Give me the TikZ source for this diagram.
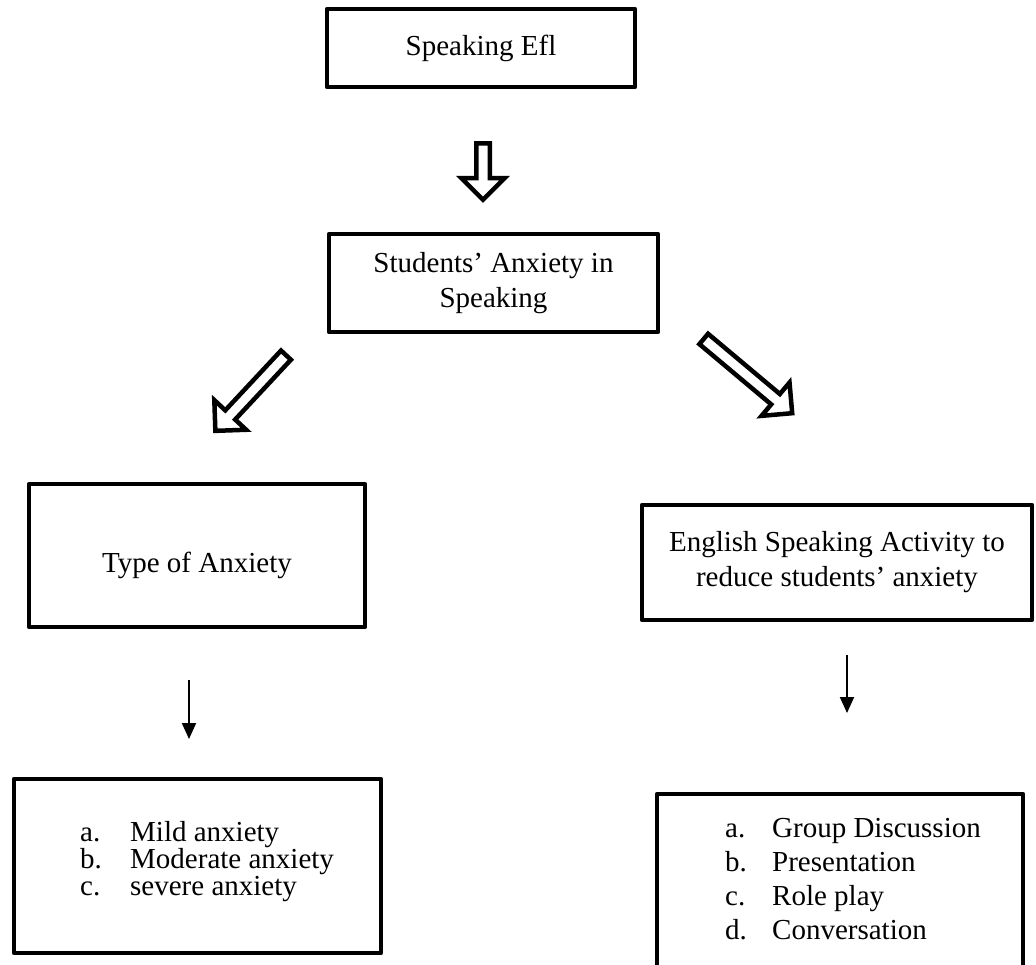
\documentclass[tikz,border=0pt]{standalone}
\usepackage{fontspec}
\setmainfont{Liberation Serif}
\usetikzlibrary{positioning, shapes.arrows, arrows.meta}

\begin{document}
\begin{tikzpicture}[x=1pt,y=1pt,
   box/.style={draw, line width=3.6pt, line join=round, align=center, inner sep=0pt,
      font=\fontsize{29}{35}\selectfont},
   listtext/.style={align=left, inner sep=0pt, anchor=north west},
   fatarrow/.style={draw, single arrow, line width=4.5pt,
      single arrow head extend=15pt, single arrow head indent=0pt, inner sep=4.5pt, anchor=tail},
   thinarrow/.style={line width=2pt, -{Triangle[length=16pt,width=14pt]}}]
\useasboundingbox (0,0) rectangle (1036,-964);
\clip (0,0) rectangle (1036,-964);

\node[box, minimum width=308.4pt, minimum height=78.4pt] (efl) at (481,-48) {Speaking Efl};
\node[box, minimum width=329.4pt, minimum height=98.4pt] (stud) at (493.5,-283) {Students' Anxiety in\\ Speaking};
\node[box, minimum width=336.4pt, minimum height=143.4pt, text height=40pt] (type) at (197,-555.5) {Type of Anxiety};
\node[box, minimum width=390.4pt, minimum height=115.4pt] (act) at (837,-562.5) {English Speaking Activity to\\ reduce students' anxiety};
\node[box, minimum width=367.4pt, minimum height=174.4pt] (mild) at (197.5,-866) {};
\node[box, minimum width=366.4pt, minimum height=174.4pt] (disc) at (840,-881) {};

\node[listtext, font=\fontsize{29}{27}\selectfont] (mildlist) at ([xshift=68pt,yshift=-44pt]mild.north west)
   {\makebox[50pt][l]{a.}Mild anxiety\\ \makebox[50pt][l]{b.}Moderate anxiety\\ \makebox[50pt][l]{c.}severe anxiety};
\node[listtext, font=\fontsize{29}{34}\selectfont] (disclist) at ([xshift=70pt,yshift=-26pt]disc.north west)
   {\makebox[47pt][l]{a.}Group Discussion\\ \makebox[47pt][l]{b.}Presentation\\ \makebox[47pt][l]{c.}Role play\\ \makebox[47pt][l]{d.}Conversation};

% hollow arrows
\node[fatarrow, rotate=-90, minimum height=56.5pt] (down) at (483,-141) {};
\node[fatarrow, rotate=227, minimum height=103.5pt] (left) at (287.5,-353.5) {};
\node[fatarrow, rotate=-40, minimum height=115.5pt] (right) at (702,-337.5) {};

\draw[thinarrow, shorten <=51pt, shorten >=38pt] ([xshift=-8pt]type.south) -- ([xshift=-8.5pt]mild.north);
\draw[thinarrow, shorten <=33pt, shorten >=79pt] ([xshift=10pt]act.south) -- ([xshift=7pt]disc.north);
\end{tikzpicture}
\end{document}
